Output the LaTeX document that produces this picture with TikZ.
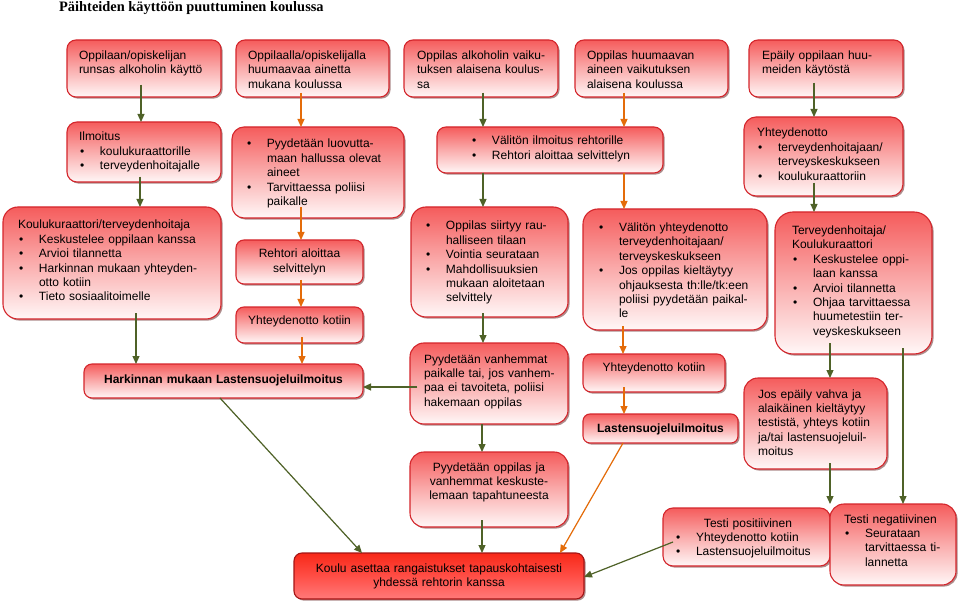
\documentclass[tikz,border=0pt]{standalone}
\usepackage{fontspec}
\setmainfont{Liberation Sans}
\newfontfamily\titlefont{Liberation Serif}
\usetikzlibrary{arrows.meta,shadows,calc}
\definecolor{grn}{RGB}{79,98,40}
\definecolor{org}{RGB}{228,108,10}
\definecolor{bord}{RGB}{212,38,44}
\definecolor{ftop}{RGB}{245,92,92}
\definecolor{fmid}{RGB}{250,172,172}
\definecolor{fbot}{RGB}{255,247,247}
\definecolor{ktop}{RGB}{248,40,24}
\definecolor{kmid}{RGB}{255,78,70}
\definecolor{kbot}{RGB}{255,122,122}
\definecolor{kbord}{RGB}{165,20,20}
\newcommand\nl{\unskip\hfil\break}
\newcommand\bi[1]{\hangindent=21pt\hangafter=1\leavevmode\hbox to 21pt{\hskip1pt\textbullet\hfil}#1\par}
\tikzset{
 boxs/.style={draw=bord, line width=1.1pt, top color=ftop, bottom color=fbot, middle color=fmid,
   inner sep=0pt, outer sep=0pt,
   drop shadow={shadow xshift=1.6pt, shadow yshift=-1.6pt, opacity=0.45, fill=black!70!red}},
 kbox/.style={boxs, draw=kbord, top color=ktop, bottom color=kbot, middle color=kmid},
 txt/.style={inner sep=0pt, outer sep=0pt, text=black,
   font=\fontsize{12}{14.4}\selectfont\setlength\parindent{0pt}},
 ga/.style={draw=grn, line width=1.2pt, -{Triangle[length=8pt,width=7pt]}, fill=grn},
 oa/.style={draw=org, line width=1.2pt, -{Triangle[length=8pt,width=7pt]}, fill=org},
}
\newcommand\bx[7][boxs]{\node[#1, rounded corners=#7, minimum width={#5-#3}, minimum height={#6-#4}, anchor=north west] (#2) at (#3,#4) {};}
\newcommand\tl[5]{\node[txt, text width=#4pt, align=left, anchor=north west] (#1) at (#2,{#3-10.08}) {\strut#5};}
\newcommand\tc[5]{\node[txt, text width=#4pt, align=center, anchor=north] (#1) at (#2,{#3-10.08}) {\strut#5};}
\begin{document}
\begin{tikzpicture}[x=1pt,y=-1pt]
\useasboundingbox (0,0) rectangle (960,601);
\fill[white] (0,0) rectangle (960,601);
\node[anchor=base west, inner sep=0pt, font=\titlefont\bfseries\fontsize{14.4}{17}\selectfont] (title) at (59,11.5) {Päihteiden käyttöön puuttuminen koulussa};
% boxes
\bx{A1}{67}{40}{221}{97}{9pt}
\bx{A2}{236}{40}{389}{97}{9pt}
\bx{A3}{404}{40}{558}{97}{9pt}
\bx{A4}{575}{40}{728}{97}{9pt}
\bx{A5}{749}{40}{903}{97}{9pt}
\bx{B1}{67}{122}{221}{182}{10pt}
\bx{B2}{232}{127}{404}{218}{12pt}
\bx{B3}{437}{127}{663}{173}{9pt}
\bx{B4}{744}{117}{903}{196}{12pt}
\bx{C1}{3}{207}{221}{319}{15pt}
\bx{C2}{236}{240}{363}{284}{8pt}
\bx{C3}{236}{307}{363}{343}{8pt}
\bx{D1}{411}{207}{568}{317}{15pt}
\bx{D2}{583}{209}{767}{330}{15pt}
\bx{D3}{775}{212}{932}{354}{18pt}
\bx{E1}{84}{364}{363}{398}{8pt}
\bx{E2}{410}{343}{568}{424}{14pt}
\bx{E3}{583}{354}{725}{392}{8pt}
\bx{E4}{583}{414}{738}{443}{7pt}
\bx{E5}{744}{378}{887}{469}{14pt}
\bx{E6}{410}{452}{568}{527}{14pt}
\bx[kbox]{F1}{294}{553}{584}{599}{8pt}
\bx{F2}{663}{508}{830}{566}{10pt}
\bx{F3}{830}{504}{956}{585}{14pt}
% texts
\tl{tA1}{79}{59.5}{138}{Oppilaan/opiskelijan\nl runsas alkoholin käyttö}
\tl{tA2}{248}{59.5}{138}{Oppilaalla/opiskelijalla\nl huumaavaa ainetta\nl mukana koulussa}
\tl{tA3}{417}{59.5}{138}{Oppilas alkoholin vaiku-\nl tuksen alaisena koulus-\nl sa}
\tl{tA4}{587}{59.5}{138}{Oppilas huumaavan\nl aineen vaikutuksen\nl alaisena koulussa}
\tl{tA5}{762}{59.5}{138}{Epäily oppilaan huu-\nl meiden käytöstä}
\tl{tB1}{79}{141}{138}{Ilmoitus\par\bi{koulukuraattorille}\bi{terveydenhoitajalle}}
\tl{tB2}{246}{148}{155}{\bi{Pyydetään luovutta-\nl maan hallussa olevat\nl aineet}\bi{Tarvittaessa poliisi\nl paikalle}}
\tl{tB3}{471}{145}{185}{\bi{Välitön ilmoitus rehtorille}\bi{Rehtori aloittaa selvittelyn}}
\tl{tB4}{757}{137}{142}{Yhteydenotto\par\bi{terveydenhoitajaan/\nl terveyskeskukseen}\bi{koulukuraattoriin}}
\tl{tC1}{18}{229}{200}{Koulukuraattori/terveydenhoitaja\par\bi{Keskustelee oppilaan kanssa}\bi{Arvioi tilannetta}\bi{Harkinnan mukaan yhteyden-\nl otto kotiin}\bi{Tieto sosiaalitoimelle}}
\tc{tC2}{299.5}{258}{120}{Rehtori aloittaa\\selvittelyn}
\tc{tC3}{299.5}{324}{120}{Yhteydenotto kotiin}
\tl{tD1}{425}{230}{140}{\bi{Oppilas siirtyy rau-\nl halliseen tilaan}\bi{Vointia seurataan}\bi{Mahdollisuuksien\nl mukaan aloitetaan\nl selvittely}}
\tl{tD2}{598}{231.5}{165}{\bi{Välitön yhteydenotto\nl terveydenhoitajaan/\nl terveyskeskukseen}\bi{Jos oppilas kieltäytyy\nl ohjauksesta th:lle/tk:een\nl poliisi pyydetään paikal-\nl le}}
\tl{tD3}{792}{234.5}{138}{Terveydenhoitaja/\nl Koulukuraattori\par\bi{Keskustelee oppi-\nl laan kanssa}\bi{Arvioi tilannetta}\bi{Ohjaa tarvittaessa\nl huumetestiin ter-\nl veyskeskukseen}}
\tc{tE1}{223.5}{383}{270}{\bfseries Harkinnan mukaan Lastensuojeluilmoitus}
\tl{tE2}{424}{363}{142}{Pyydetään vanhemmat\nl paikalle tai, jos vanhem-\nl paa ei tavoiteta, poliisi\nl hakemaan oppilas}
\tc{tE3}{654}{371}{135}{Yhteydenotto kotiin}
\tc{tE4}{660.5}{432}{150}{\bfseries Lastensuojeluilmoitus}
\tl{tE5}{758}{398}{128}{Jos epäily vahva ja\nl alaikäinen kieltäytyy\nl testistä, yhteys kotiin\nl ja/tai lastensuojeluil-\nl moitus}
\tc{tE6}{489}{471}{150}{Pyydetään oppilas ja\\vanhemmat keskuste-\\lemaan tapahtuneesta}
\tc{tF1}{439}{572}{285}{Koulu asettaa rangaistukset tapauskohtaisesti\\yhdessä rehtorin kanssa}
\tl{tF2}{675}{527}{146}{{\centering Testi positiivinen\par}\bi{Yhteydenotto kotiin}\bi{Lastensuojeluilmoitus}}
\tl{tF3}{844}{523}{110}{Testi negatiivinen\par\bi{Seurataan\nl tarvittaessa ti-\nl lannetta}}
% connectors
\draw[ga] ($(A1.south -| 141,0)+(0,-12)$) -- (B1.north -| 141,0);
\draw[ga] ($(B1.south -| 140,0)+(0,-5)$) -- (C1.north -| 140,0);
\draw[ga] ($(C1.south -| 136,0)+(0,-6)$) -- (E1.north -| 136,0);
\draw[oa] ($(A2.south -| 301,0)+(0,-4)$) -- (B2.north -| 301,0);
\draw[oa] ($(B2.south -| 301,0)+(0,-11)$) -- (C2.north -| 301,0);
\draw[oa] ($(C2.south -| 301,0)+(0,-4)$) -- (C3.north -| 301,0);
\draw[oa] ($(C3.south -| 302,0)+(0,-6)$) -- (E1.north -| 302,0);
\draw[ga] ($(A3.south -| 483,0)+(0,-4)$) -- (B3.north -| 483,0);
\draw[ga] (B3.south -| 483,0) -- (D1.north -| 483,0);
\draw[ga] ($(D1.south -| 483,0)+(0,-4)$) -- (E2.north -| 483,0);
\draw[ga] (E2.south -| 482,0) -- (E6.north -| 482,0);
\draw[ga] ($(E6.south -| 482,0)+(0,-7)$) -- (F1.north -| 482,0);
\draw[oa] ($(A4.south -| 624,0)+(0,-4)$) -- (B3.north -| 624,0);
\draw[oa] (B3.south -| 624,0) -- (D2.north -| 624,0);
\draw[oa] ($(D2.south -| 623,0)+(0,-4)$) -- (E3.north -| 623,0);
\draw[oa] ($(E3.south -| 624,0)+(0,-5)$) -- (E4.north -| 624,0);
\draw[ga] ($(A5.south -| 814,0)+(0,-14)$) -- (B4.north -| 814,0);
\draw[ga] ($(B4.south -| 814,0)+(0,-13)$) -- (D3.north -| 814,0);
\draw[ga] ($(D3.south -| 830,0)+(0,-11)$) -- (E5.north -| 830,0);
\draw[ga] ($(D3.south -| 903,0)+(0,-6)$) -- (F3.north -| 903,0);
\draw[ga] ($(E5.south -| 830,0)+(0,-6)$) -- (F3.north -| 830,0);
\draw[ga] ($(E2.west |- 0,387)+(7,0)$) -- (E1.east |- 0,387);
\draw[ga] (E1.south -| 220,0) -- (F1.north -| 362,0);
\draw[oa] (E4.south -| 623,0) -- (F1.north -| 560,0);
\draw[ga] ($(F2.west |- 0,542)+(10,0)$) -- (F1.east |- 0,577);
\end{tikzpicture}
\end{document}
